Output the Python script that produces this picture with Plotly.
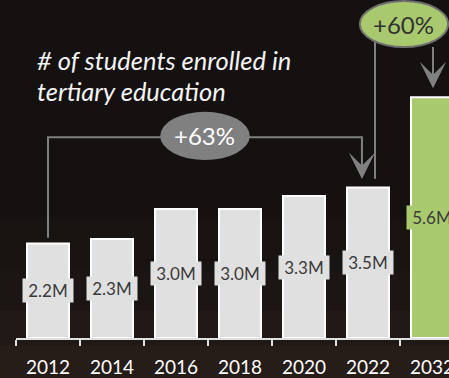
import plotly.graph_objects as go

years = ["2012", "2014", "2016", "2018", "2020", "2022", "2032"]
students_m = [2.2, 2.3, 3.0, 3.0, 3.3, 3.5, 5.6]
value_labels = ["2.2M", "2.3M", "3.0M", "3.0M", "3.3M", "3.5M", "5.6M"]
growth_labels = ["+63%", "+60%"]
title_lines = ["# of students enrolled in", "tertiary education"]

GRAY_BAR = "#e0e0e0"
GREEN = "#a9c96e"
LINE_GRAY = "#808080"
FONT = "Lato"

colors = [GRAY_BAR] * 6 + [GREEN]

fig = go.Figure()
fig.add_trace(go.Bar(
    x=years, y=students_m,
    marker=dict(color=colors, line=dict(color="#ffffff", width=2)),
    hoverinfo="skip",
))

shapes = []
# subtle warm gradient at the bottom of the background
grad = [(0.35, 0.05), (0.20, 0.06), (0.08, 0.07), (-0.02, 0.09)]
for ytop, op in grad:
    shapes.append(dict(type="rect", xref="paper", yref="paper", x0=-0.05, x1=1.05,
                       y0=-0.15, y1=ytop, fillcolor=f"rgba(100,70,50,{op})",
                       line=dict(width=0), layer="below"))

# bracket 1: 2012 -> 2022
i0, i1 = 0, 5
top1 = 4.67
xr1 = i1 - 0.094
shapes.append(dict(type="path", xref="x", yref="y",
                   path=f"M {i0},{students_m[i0] + 0.13} L {i0},{top1} L {xr1},{top1} L {xr1},{top1 - 0.3}",
                   line=dict(color=LINE_GRAY, width=2)))
# ellipse for +63%
cx1, cy1 = 2.453, 4.70
shapes.append(dict(type="circle", xref="x", yref="y", x0=cx1 - 0.70, x1=cx1 + 0.70,
                   y0=cy1 - 0.56, y1=cy1 + 0.56, fillcolor=LINE_GRAY, line=dict(width=0)))

# bracket 2: 2022 -> 2032
xl2 = 5.11
xr2 = 6.016
cx2, cy2 = 5.5625, 7.30
shapes.append(dict(type="line", xref="x", yref="y", x0=xl2, x1=xl2,
                   y0=students_m[5] + 0.2, y1=cy2 - 0.3,
                   line=dict(color=LINE_GRAY, width=2)))
shapes.append(dict(type="circle", xref="x", yref="y", x0=cx2 - 0.69, x1=cx2 + 0.69,
                   y0=cy2 - 0.535, y1=cy2 + 0.535, fillcolor=GREEN,
                   line=dict(color="#707070", width=2)))

annotations = []
# arrows
annotations.append(dict(x=xr1, y=students_m[i1] + 0.20, xref="x", yref="y",
                        ax=xr1, ay=top1 - 0.2, axref="x", ayref="y", text="",
                        showarrow=True, arrowhead=3, arrowsize=2.2, arrowwidth=2,
                        arrowcolor=LINE_GRAY))
annotations.append(dict(x=xr2, y=students_m[6] + 0.21, xref="x", yref="y",
                        ax=xr2, ay=cy2 - 0.5, axref="x", ayref="y", text="",
                        showarrow=True, arrowhead=3, arrowsize=2.2, arrowwidth=2,
                        arrowcolor=LINE_GRAY))
# growth labels
annotations.append(dict(x=cx1, y=cy1, xref="x", yref="y", text=growth_labels[0],
                        showarrow=False, font=dict(family=FONT, size=24, color="#ffffff")))
annotations.append(dict(x=cx2, y=cy2, xref="x", yref="y", text=growth_labels[1],
                        showarrow=False, font=dict(family=FONT, size=24, color="#333333")))
# bar value labels
for i, (v, lab) in enumerate(zip(students_m, value_labels)):
    annotations.append(dict(x=i, y=v / 2, xref="x", yref="y", text=lab, showarrow=False,
                            bgcolor=colors[i], width=48, height=21,
                            font=dict(family=FONT, size=17, color="#3a3a3a")))
# title
for k, (line, yp) in enumerate(zip(title_lines, [0.822, 0.730])):
    annotations.append(dict(x=0.044, y=yp, xref="paper", yref="paper", xanchor="left",
                            yanchor="middle", text=f"<i>{line}</i>", showarrow=False,
                            font=dict(family=FONT, size=25.5, color="#f4f4f4")))

fig.update_layout(
    width=449, height=378,
    margin=dict(l=16, r=0, t=0, b=40, autoexpand=False),
    paper_bgcolor="#141110", plot_bgcolor="rgba(0,0,0,0)",
    showlegend=False, bargap=0.344,
    shapes=shapes, annotations=annotations,
    xaxis=dict(type="category", range=[-0.5, 6.266], tickson="boundaries",
               ticks="outside", ticklen=6, tickwidth=2, tickcolor="#e0e0e0",
               showline=True, linecolor="#e0e0e0", linewidth=2, automargin=False,
               showgrid=False, zeroline=False, ticklabelstandoff=11,
               tickfont=dict(family=FONT, size=19, color="#ffffff")),
    yaxis=dict(range=[0, 7.86], visible=False, showgrid=False, zeroline=False,
               automargin=False),
)

fig.write_html("out.html", config={"displayModeBar": False},
               post_script="document.body.style.margin='0';document.body.style.overflow='hidden';document.body.style.background='#141110';")
